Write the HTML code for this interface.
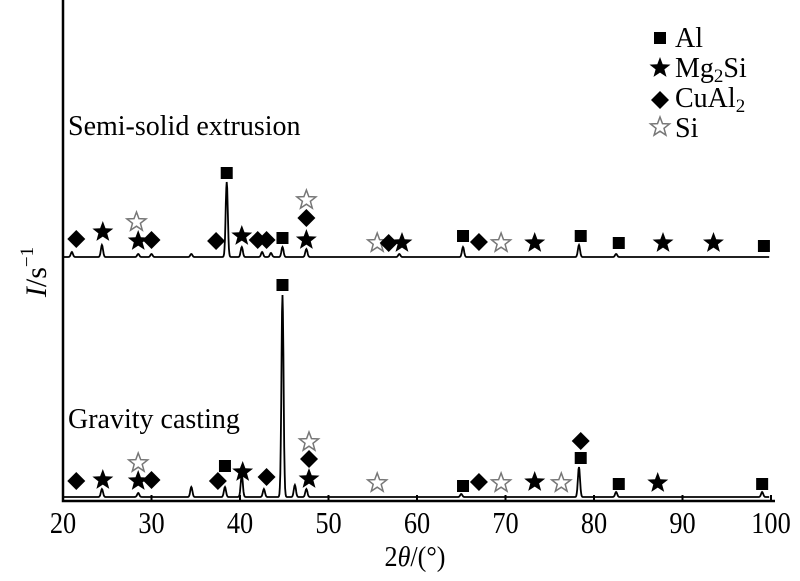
<!DOCTYPE html>
<html><head><meta charset="utf-8"><style>
html,body{margin:0;padding:0;background:#fff;}
svg{display:block;font-family:"Liberation Serif",serif;}
</style></head><body>
<svg id="chart" width="800" height="581" viewBox="0 0 800 581" xmlns="http://www.w3.org/2000/svg">
<g id="plot"></g>
<text x="68" y="135" font-size="28">Semi-solid extrusion</text>
<text x="68" y="428" font-size="28">Gravity casting</text>
<text transform="translate(46,272) rotate(-90)" text-anchor="middle" font-size="30"><tspan font-style="italic">I</tspan>/s<tspan font-size="19" dy="-13">−1</tspan></text>
<text transform="translate(415,566) scale(0.9,1)" text-anchor="middle" font-size="29">2<tspan font-style="italic">θ</tspan>/(°)</text>
<g font-size="28">
 <rect x="654" y="32" width="12" height="12" fill="#000"/>
 <text x="675" y="47">Al</text>
 <path id="lgstar" fill="#000"/>
 <text x="675" y="77">Mg<tspan font-size="19" dy="5">2</tspan><tspan dy="-5">Si</tspan></text>
 <path d="M660,91 L669,100 L660,109 L651,100Z" fill="#000"/>
 <text x="675" y="107">CuAl<tspan font-size="19" dy="5">2</tspan></text>
 <path id="lgostar" fill="none" stroke="#777" stroke-width="1.5"/>
 <text x="675" y="137">Si</text>
</g>
</svg>
<script>
// data
const xTicks=[20,30,40,50,60,70,80,90,100];
const semiPeaks=[[21,5],[24.4,12],[28.5,3],[30,3],[34.5,3],[38.5,75],[40.2,10],[42.5,5],[43.5,4],[44.8,10],[47.5,8],[58,3],[65.2,10],[78.3,12],[82.5,3]];
const gravPeaks=[[24.4,8],[28.5,4],[34.5,10],[38.3,10],[40.2,22],[42.7,8],[44.8,202],[46.2,12],[47.5,8],[65,3],[78.3,30],[82.5,5],[99,5]];
// markers: [angle, height above baseline, type] type: sq=Al, st=Mg2Si, di=CuAl2, os=Si
const semiMarkers=[[21.5,18,'di'],[24.5,25,'st'],[28.5,16,'st'],[28.3,35,'os'],[30,17,'di'],[37.3,16,'di'],[38.5,84,'sq'],[40.2,21,'st'],[42,17,'di'],[43,17,'di'],[44.8,19,'sq'],[47.5,17,'st'],[47.5,39,'di'],[47.5,57,'os'],[55.5,14,'os'],[56.8,14,'di'],[58.3,14,'st'],[65.2,21,'sq'],[67,15,'di'],[69.5,14,'os'],[73.3,14,'st'],[78.5,21,'sq'],[82.8,14,'sq'],[87.8,14,'st'],[93.5,14,'st'],[99.2,11,'sq']];
const gravMarkers=[[21.5,16,'di'],[24.5,17,'st'],[28.5,34,'os'],[28.5,16,'st'],[30,17,'di'],[37.5,16,'di'],[38.3,31,'sq'],[40.3,25,'st'],[43,20,'di'],[47.8,55,'os'],[47.8,38,'di'],[47.8,18,'st'],[55.5,14,'os'],[44.8,212,'sq'],[65.2,11,'sq'],[67,15,'di'],[69.5,14,'os'],[73.3,15,'st'],[76.3,14,'os'],[78.5,39,'sq'],[78.5,56,'di'],[82.8,13,'sq'],[87.2,14,'st'],[99,13,'sq']];

const NS='http://www.w3.org/2000/svg';
const X0=63,XSCALE=8.85,AXY=501,TOPB=257,BOTB=497;
const xs=a=>X0+(a-20)*XSCALE;
const plot=document.getElementById('plot');
function mk(tag,attrs,parent){const e=document.createElementNS(NS,tag);for(const k in attrs)e.setAttribute(k,attrs[k]);(parent||plot).appendChild(e);return e;}
function starPath(cx,cy,R){const r=R*0.42;let d='';for(let i=0;i<10;i++){const rr=i%2?r:R;const a=-Math.PI/2+i*Math.PI/5;d+=(i?'L':'M')+(cx+rr*Math.cos(a)).toFixed(1)+','+(cy+rr*Math.sin(a)).toFixed(1);}return d+'Z';}
document.getElementById('lgstar').setAttribute('d',starPath(660,68,11));
document.getElementById('lgostar').setAttribute('d',starPath(660,127,10));

// axes
const ax=mk('path',{d:`M${X0},0 L${X0},${AXY} L${xs(100)+4},${AXY}`,stroke:'#000','stroke-width':2.5,fill:'none'});


xTicks.forEach(t=>{
 const l=mk('line',{x1:xs(t),x2:xs(t),y1:AXY,y2:AXY-6,stroke:'#000','stroke-width':2});
 
 
 const tx=mk('text',{transform:`translate(${xs(t)},533) scale(0.85,1)`,'text-anchor':'middle','font-size':31});
 tx.textContent=t;
 
 
});
function spectrum(peaks,base,name){
 let d='';
 for(let a=20;a<=99.8;a+=0.05){
  let y=0;
  peaks.forEach(p=>{const w=0.12;y+=p[1]*Math.exp(-((a-p[0])**2)/(2*w*w));});
  d+=(d?'L':'M')+xs(a).toFixed(1)+','+(base-y).toFixed(1);
 }
 const p=mk('path',{d:d,stroke:'#000','stroke-width':1.8,fill:'none'});
 
 
}
spectrum(semiPeaks,TOPB,'semi-solid-pattern');
spectrum(gravPeaks,BOTB,'gravity-pattern');
function markers(list,base,prefix){
 list.forEach(m=>{
  const cx=xs(m[0]),cy=base-m[1];let e;
  if(m[2]==='sq')e=mk('rect',{x:cx-6,y:cy-6,width:12,height:12,fill:'#000'});
  else if(m[2]==='di')e=mk('path',{d:`M${cx},${cy-9}L${cx+9},${cy}L${cx},${cy+9}L${cx-9},${cy}Z`,fill:'#000'});
  else if(m[2]==='st')e=mk('path',{d:starPath(cx,cy,11),fill:'#000'});
  else e=mk('path',{d:starPath(cx,cy,10),fill:'none',stroke:'#777','stroke-width':1.5});
  
  
 });
}
markers(semiMarkers,TOPB,'semi');
markers(gravMarkers,BOTB,'gravity');
</script>
</body></html>
